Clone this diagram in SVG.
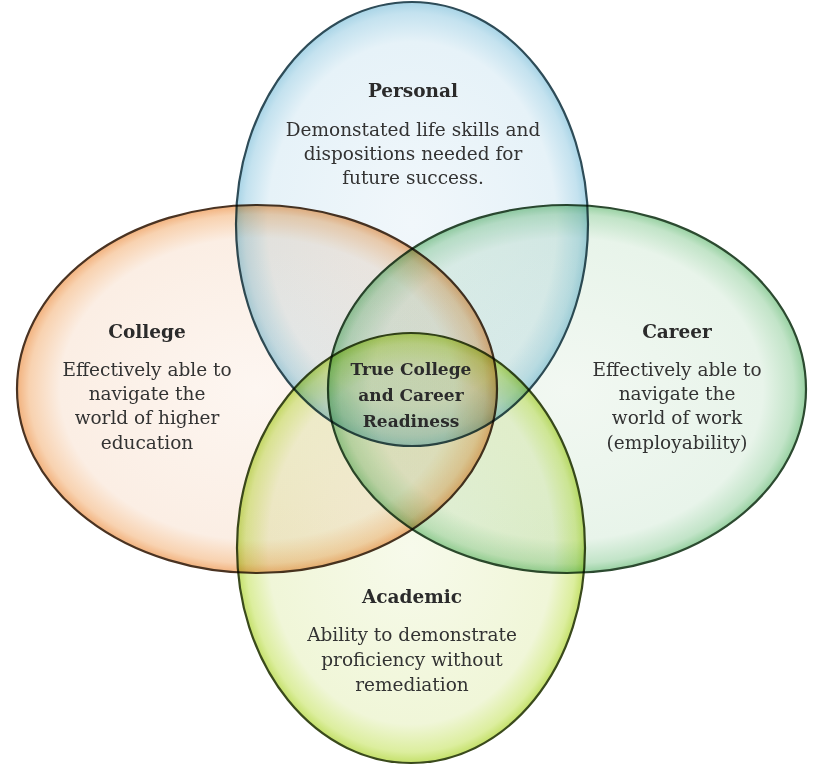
<svg xmlns="http://www.w3.org/2000/svg" width="815" height="769" viewBox="0 0 815 769">
<defs>
<radialGradient id="gBlue" cx="50%" cy="50%" r="50%">
<stop offset="0" stop-color="#f1f7fb"/><stop offset="0.82" stop-color="#e6f2f8"/><stop offset="0.95" stop-color="#c4e2ef"/><stop offset="1" stop-color="#a8d4e6"/>
</radialGradient>
<radialGradient id="gOrange" cx="50%" cy="50%" r="50%">
<stop offset="0" stop-color="#fdf6f1"/><stop offset="0.82" stop-color="#fbeee4"/><stop offset="0.95" stop-color="#f8d2b0"/><stop offset="1" stop-color="#f2b27e"/>
</radialGradient>
<radialGradient id="gGreen" cx="50%" cy="50%" r="50%">
<stop offset="0" stop-color="#f2f8f2"/><stop offset="0.82" stop-color="#e8f4ea"/><stop offset="0.95" stop-color="#c2e4c8"/><stop offset="1" stop-color="#98d1a2"/>
</radialGradient>
<radialGradient id="gLime" cx="50%" cy="50%" r="50%">
<stop offset="0" stop-color="#f7faeb"/><stop offset="0.82" stop-color="#f0f6d8"/><stop offset="0.95" stop-color="#dcee9e"/><stop offset="1" stop-color="#c4e06a"/>
</radialGradient>
</defs>
<style>
.shape{mix-blend-mode:multiply;stroke-width:2.2}
text{font-family:"DejaVu Serif","Liberation Serif",serif;fill:#333;text-anchor:middle;font-size:18.5px}
.h{font-weight:bold;font-size:18.5px;fill:#2b2b2b}
.c{font-weight:bold;font-size:17px;fill:#2b2b2b}
</style>
<rect width="815" height="769" fill="#ffffff"/>
<g id="personal">
<ellipse class="shape" cx="412" cy="224" rx="176" ry="222" fill="url(#gBlue)" stroke="#2e4c58"/>
</g>
<g id="college">
<ellipse class="shape" cx="257" cy="389" rx="240" ry="184" fill="url(#gOrange)" stroke="#4a3322"/>
</g>
<g id="career">
<ellipse class="shape" cx="567" cy="389" rx="239" ry="184" fill="url(#gGreen)" stroke="#2c4a30"/>
</g>
<g id="academic">
<ellipse class="shape" cx="411" cy="548" rx="174" ry="215" fill="url(#gLime)" stroke="#3a4a1c"/>
</g>
<g id="personal-label">
<text class="h" x="413" y="97">Personal</text>
<text x="413" y="136">Demonstated life skills and</text>
<text x="413" y="160">dispositions needed for</text>
<text x="413" y="184">future success.</text>
</g>
<g id="college-label">
<text class="h" x="147" y="338">College</text>
<text x="147" y="376">Effectively able to</text>
<text x="147" y="400">navigate the</text>
<text x="147" y="424">world of higher</text>
<text x="147" y="449">education</text>
</g>
<g id="career-label">
<text class="h" x="677" y="338">Career</text>
<text x="677" y="376">Effectively able to</text>
<text x="677" y="400">navigate the</text>
<text x="677" y="424">world of work</text>
<text x="677" y="449">(employability)</text>
</g>
<g id="academic-label">
<text class="h" x="412" y="603">Academic</text>
<text x="412" y="641">Ability to demonstrate</text>
<text x="412" y="666">proficiency without</text>
<text x="412" y="691">remediation</text>
</g>
<g id="core">
<text class="c" x="411" y="375">True College</text>
<text class="c" x="411" y="401">and Career</text>
<text class="c" x="411" y="427">Readiness</text>
</g>
</svg>
